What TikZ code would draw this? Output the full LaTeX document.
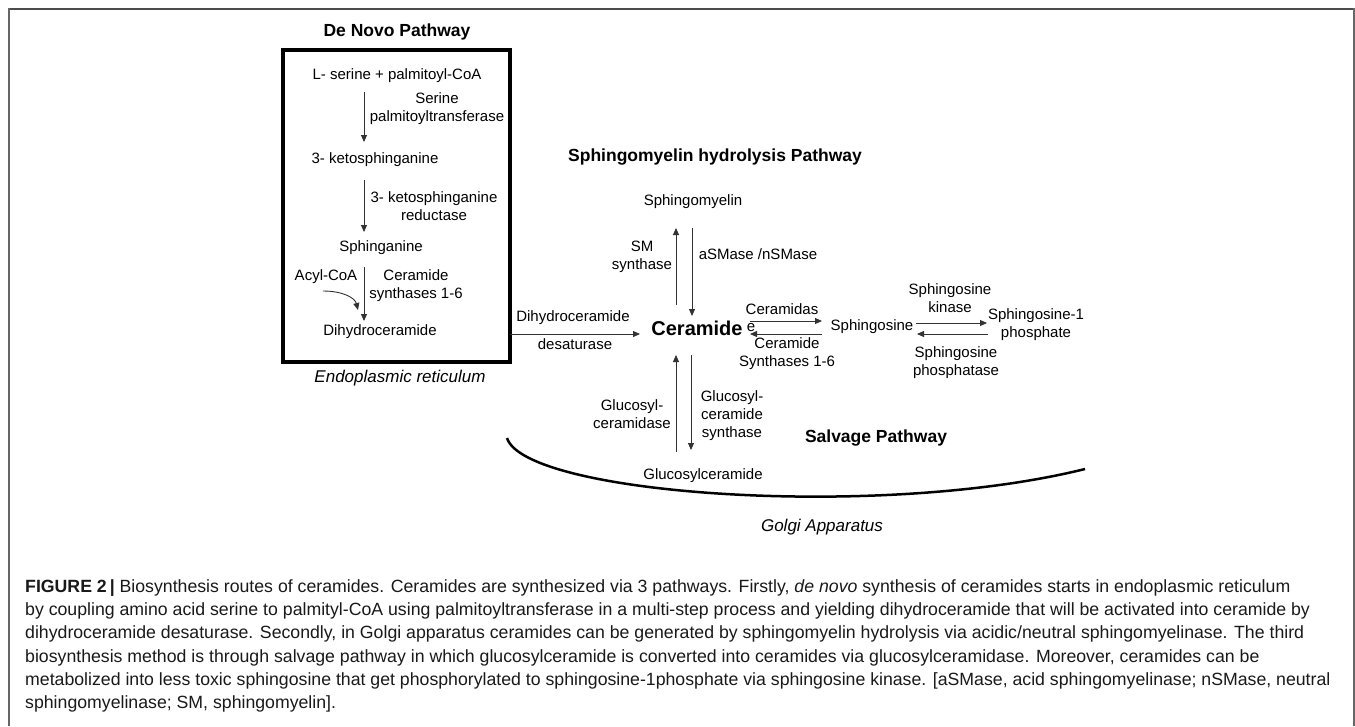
\documentclass[tikz,border=0pt]{standalone}
\usepackage{fontspec}
\setmainfont{Liberation Sans}
\usetikzlibrary{arrows.meta}
\tikzset{
lbl/.style={inner sep=0pt, align=center, font=\fontsize{15}{18}\selectfont},
ttl/.style={inner sep=0pt, font=\fontsize{17.5}{20}\selectfont\bfseries},
loc/.style={inner sep=0pt, font=\fontsize{17}{20}\selectfont\itshape},
captxt/.style={inner sep=0pt, anchor=base west, text=black!90, font=\fontsize{17.7}{20}\selectfont},
arr/.style={draw=black!80, line width=0.9pt, -{Triangle[length=7pt,width=6pt]}},
}
\begin{document}
\begin{tikzpicture}[x=1pt,y=-1pt]
\useasboundingbox (0,0) rectangle (1355,726);
\draw[black!70, line width=2pt] (9,9) -- (1354,9);
\draw[black!60, line width=1.2pt] (9,8) -- (9,726);
\draw[black!60, line width=1.2pt] (1354,8) -- (1354,726);
\node[ttl] (dntitle) at (397,32){De Novo Pathway};
\node[draw, line width=3.5pt, minimum width=227pt, minimum height=312pt, inner sep=0pt] (er) at (396.5,206){};
\node[lbl] (serine) at (397,76){L- serine + palmitoyl-CoA};
\node[lbl] (spt) at (437,109){Serine\\palmitoyltransferase};
\node[lbl] (keto) at (375,160){3- ketosphinganine};
\node[lbl] (ksr) at (434,206){3- ketosphinganine\\reductase};
\node[lbl] (sphinganine) at (381,248){Sphinganine};
\node[lbl] (acyl) at (326,277){Acyl-CoA};
\node[lbl] (cers) at (416,286){Ceramide\\synthases 1-6};
\node[lbl] (dhc) at (380,332){Dihydroceramide};
\node[loc] (erlabel) at (400,378){Endoplasmic reticulum};
\coordinate (a1s) at (364,92);
\coordinate (a1e) at (364,142);
\coordinate (a2s) at (364,180);
\coordinate (a2e) at (364,232);
\coordinate (a3s) at (364,267);
\coordinate (a3e) at (364,321);
\coordinate (acs) at (323,291);
\coordinate (ace) at (358,310);
\draw[arr] (a1s) -- (a1e);
\draw[arr] (a2s) -- (a2e);
\draw[arr] (a3s) -- (a3e);
\draw[arr] (acs) .. controls (343,291) and (355,298) .. (ace);
\node[ttl] (smtitle) at (715,157){Sphingomyelin hydrolysis Pathway};
\node[lbl] (sm) at (693,202){Sphingomyelin};
\node[lbl] (sms) at (642,257){SM\\synthase};
\node[lbl] (asm) at (758,254){aSMase /nSMase};
\node[inner sep=0pt, font=\fontsize{20}{24}\selectfont\bfseries] (cer) at (697,328){Ceramide};
\node[lbl] (stray) at (751,328){e};
\node[lbl] (dhlabel) at (573,318){Dihydroceramide};
\node[lbl] (desat) at (575,344){desaturase};
\node[lbl] (cdase) at (782,309){Ceramidas};
\node[lbl] (cersyn) at (787,354){Ceramide\\Synthases 1-6};
\node[lbl] (sphingosine) at (872,327){Sphingosine};
\node[lbl] (sk) at (950,298){Sphingosine\\kinase};
\node[lbl] (s1p) at (1036,325){Sphingosine-1\\phosphate};
\node[lbl] (spp) at (956,363){Sphingosine\\phosphatase};
\coordinate (ds) at (510,334);
\coordinate (de) at (640,334);
\coordinate (sm1) at (676,305);
\coordinate (sm2) at (676,228);
\coordinate (sm3) at (692,228);
\coordinate (sm4) at (692,316);
\coordinate (cs1) at (750,321);
\coordinate (cs2) at (822,321);
\coordinate (cs3) at (822,334);
\coordinate (cs4) at (750,334);
\coordinate (sk1) at (916,323);
\coordinate (sk2) at (987,323);
\coordinate (sk3) at (988,334);
\coordinate (sk4) at (917,334);
\draw[arr] (ds) -- (de);
\draw[arr] (sm1) -- (sm2);
\draw[arr] (sm3) -- (sm4);
\draw[arr] (cs1) -- (cs2);
\draw[arr] (cs3) -- (cs4);
\draw[arr] (sk1) -- (sk2);
\draw[arr] (sk3) -- (sk4);
\node[lbl] (gcase) at (632,414){Glucosyl-\\ceramidase};
\node[lbl] (gcs) at (732,416){Glucosyl-\\ceramide\\synthase};
\node[ttl] (salvage) at (876,438){Salvage Pathway};
\node[lbl] (gc) at (703,476){Glucosylceramide};
\node[loc] (golgi) at (822,527){Golgi Apparatus};
\coordinate (g1) at (676,452);
\coordinate (g2) at (676,355);
\coordinate (g3) at (691,355);
\coordinate (g4) at (691,450);
\draw[arr] (g1) -- (g2);
\draw[arr] (g3) -- (g4);
\draw[line width=2.5pt] (507,438) .. controls (525,495) and (880,520) .. (1085,469);
\node[captxt] (cap1) at (25,592){\textbf{FIGURE 2\,|} Biosynthesis routes of ceramides. Ceramides are synthesized via 3 pathways. Firstly, \textit{de novo} synthesis of ceramides starts in endoplasmic reticulum};
\node[captxt] (cap2) at (25,615){by coupling amino acid serine to palmityl-CoA using palmitoyltransferase in a multi-step process and yielding dihydroceramide that will be activated into ceramide by};
\node[captxt] (cap3) at (25,638){dihydroceramide desaturase. Secondly, in Golgi apparatus ceramides can be generated by sphingomyelin hydrolysis via acidic/neutral sphingomyelinase. The third};
\node[captxt] (cap4) at (25,662){biosynthesis method is through salvage pathway in which glucosylceramide is converted into ceramides via glucosylceramidase. Moreover, ceramides can be};
\node[captxt] (cap5) at (25,685){metabolized into less toxic sphingosine that get phosphorylated to sphingosine-1phosphate via sphingosine kinase. [aSMase, acid sphingomyelinase; nSMase, neutral};
\node[captxt] (cap6) at (25,708){sphingomyelinase; SM, sphingomyelin].};
\end{tikzpicture}
\end{document}
